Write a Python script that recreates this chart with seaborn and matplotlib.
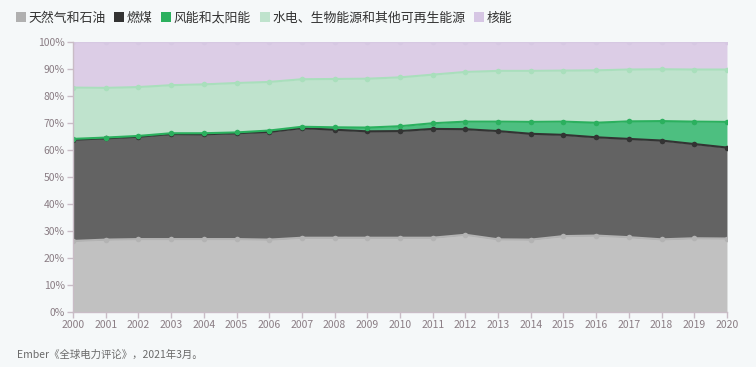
import matplotlib
matplotlib.use("Agg")
import matplotlib.pyplot as plt
import numpy as np
import pandas as pd
import seaborn as sns
from matplotlib.lines import Line2D
from matplotlib.ticker import PercentFormatter

sns.set_style("ticks")
plt.rcParams['font.family'] = ['Noto Sans CJK SC', 'DejaVu Sans']

# Share of global electricity generation (%)
years = list(range(2000, 2021))
gas_oil = [26.3, 26.8, 27.0, 27.0, 27.0, 27.0, 26.8, 27.5, 27.5, 27.5, 27.5,
           27.5, 28.6, 26.9, 26.8, 28.1, 28.3, 27.7, 26.9, 27.3, 27.2]
coal = [37.5, 37.5, 37.9, 38.9, 38.8, 39.2, 39.9, 40.6, 40.0, 39.4, 39.5,
        40.3, 39.1, 40.1, 39.2, 37.5, 36.4, 36.4, 36.6, 34.9, 33.7]
wind_solar = [0.3, 0.3, 0.3, 0.3, 0.4, 0.3, 0.5, 0.5, 0.9, 1.4, 1.8,
              2.1, 2.8, 3.5, 4.4, 4.9, 5.4, 6.5, 7.2, 8.3, 9.5]
hydro_other = [19.0, 18.4, 18.1, 17.8, 18.1, 18.3, 18.0, 17.6, 17.9, 18.1, 18.1,
               18.0, 18.4, 18.8, 18.9, 18.9, 19.4, 19.2, 19.2, 19.3, 19.4]
nuclear = [16.9, 17.0, 16.7, 16.0, 15.7, 15.2, 14.8, 13.8, 13.7, 13.6, 13.1,
           12.1, 11.1, 10.7, 10.7, 10.6, 10.5, 10.2, 10.1, 10.2, 10.2]

labels = ["天然气和石油", "燃煤", "风能和太阳能", "水电、生物能源和其他可再生能源", "核能"]
fills = ["#c1c1c1", "#636363", "#4dbf80", "#bfe3cd", "#dccde6"]
lines = ["#b3b3b3", "#333333", "#2bb05e", "#a9dfbc", "#d6c8e2"]
legend_cols = ["#b0b0b0", "#333333", "#2bb05e", "#bfe3cd", "#d6c6e4"]

df = pd.DataFrame({"year": years, "gas": gas_oil, "coal": coal,
                   "wind": wind_solar, "hydro": hydro_other, "nuclear": nuclear})
cols = ["gas", "coal", "wind", "hydro", "nuclear"]
tops = df[cols].cumsum(axis=1)

bg = "#f5f8f9"
fig = plt.figure(figsize=(7.56, 3.67), dpi=100, facecolor=bg)
ax = fig.add_axes([0.0966, 0.150, 0.865, 0.7356])
ax.set_facecolor(bg)

ax.stackplot(df["year"], *[df[c] for c in cols], colors=fills, linewidth=0)
for c, lc in zip(cols, lines):
    sns.lineplot(x=df["year"], y=tops[c], ax=ax, color=lc, linewidth=1.5,
                 marker="o", markersize=4, markeredgewidth=0)

ax.set_xlim(2000, 2020)
ax.set_ylim(0, 100)
ax.set_xticks(years)
ax.set_yticks(range(0, 101, 10))
ax.yaxis.set_major_formatter(PercentFormatter(decimals=0))
ax.set_xlabel("")
ax.set_ylabel("")
tick_col = "#8a7d84"
ax.tick_params(axis="both", labelsize=7.5, colors="#c9bcc6", labelcolor=tick_col,
               length=4, width=1, pad=2)
for s in ["top", "right"]:
    ax.spines[s].set_visible(False)
for s in ["left", "bottom"]:
    ax.spines[s].set_color("#c9bcc6")
    ax.spines[s].set_linewidth(1)

handles = [Line2D([], [], marker="s", linestyle="", markersize=7,
                  markerfacecolor=c, markeredgewidth=0) for c in legend_cols]
fig.legend(handles, labels, loc="upper left", bbox_to_anchor=(0.005, 1.0),
           ncol=5, frameon=False, fontsize=9.3, handlelength=0.8,
           handletextpad=0.2, columnspacing=0.65, labelcolor="#333333")

fig.text(0.022, 0.025, "Ember《全球电力评论》，2021年3月。", fontsize=7.5,
         color="#6a6a6a")

fig.savefig("out.png", dpi=100, facecolor=bg)
